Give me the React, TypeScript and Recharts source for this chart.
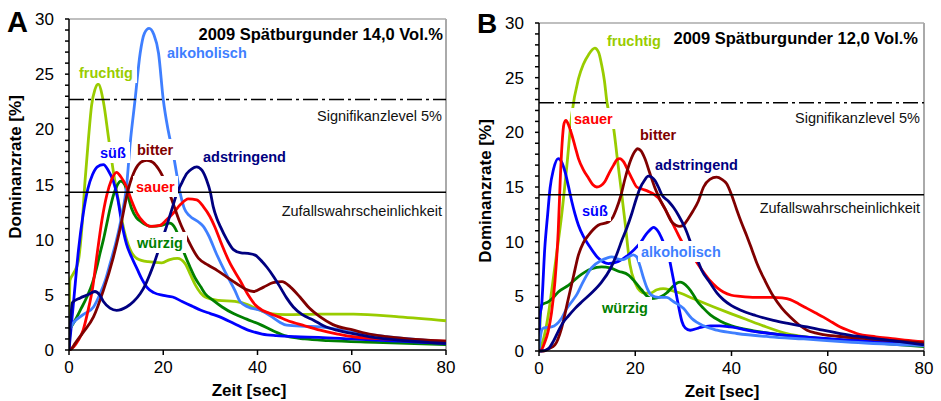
import React from 'react'
import { LineChart, Line, XAxis, YAxis, ReferenceLine } from 'recharts'

type P = [number, number]

// ---- Panel A: 2009 Spätburgunder 14,0 Vol.%  (Zeit [sec], Dominanzrate [%])
const suessA: P[] = [[0,0],[1,4.5],[2,9],[3,12.3],[4,14.6],[5,15.9],[6,16.6],[7.3,16.8],[8.3,16.3],[9.4,15.3],[10.3,13.8],[11.2,11.5],[12.2,9.6],[13.3,8.4],[14.5,7.3],[15.5,6.4],[16.5,5.7],[18,5.2],[20,4.95],[22,4.8],[24,4.4],[26,4.0],[28,3.6],[30,3.3],[32,3.0],[35,2.4],[38,1.8],[41,1.45],[44,1.3],[48,1.2],[53,1.15],[60,1.0],[70,0.8],[80,0.6]]
const sauerA: P[] = [[0,0],[1,0.3],[2,0.9],[3,1.8],[4,3.5],[5,5.6],[6,8.8],[7,11.8],[8,14.0],[9,15.4],[10.1,16.1],[11,15.7],[12.2,14.8],[13.3,13.5],[14.4,12.4],[15.8,11.6],[17.2,11.2],[19.3,11.3],[20.7,11.8],[22.1,12.4],[23.7,13.2],[25.3,13.7],[27.1,13.6],[28.5,13.0],[29.9,12.1],[31,11.1],[32.1,9.9],[34,8.0],[36.3,6.3],[38,5.0],[39.5,4.1],[41,3.6],[42.7,3.3],[44.5,3.0],[46.2,2.7],[50,2.2],[53.3,1.8],[57,1.45],[60.4,1.2],[70,0.95],[80,0.8]]
const bitterA: P[] = [[0,0],[0.5,0.1],[1.3,0.6],[3,1.6],[5.2,3.0],[7.3,5.4],[9.4,8.4],[10.8,10.9],[12.6,14.6],[14,16.3],[15.2,17.0],[16.5,17.2],[17.8,17.0],[19,16.4],[19.7,15.9],[20.8,14.8],[22,13.4],[23.5,11.6],[25,10.2],[27.5,8.3],[29.5,7.7],[31.5,7.2],[33.5,6.6],[35.6,6.0],[37.5,5.5],[39.1,5.3],[41.3,5.7],[43.3,6.1],[45.2,6.2],[47,5.7],[49,4.8],[51,3.8],[53.3,3.0],[56,2.3],[60.4,1.8],[63,1.5],[67.4,1.2],[72,1.0],[80,0.8]]
const fruchtigA: P[] = [[0,0],[0.2,6.3],[0.9,6.9],[2,8.1],[2.7,10.9],[3.4,15.3],[4.1,19],[4.8,22.2],[5.5,23.6],[6.2,24.1],[7.3,22.5],[8.4,19.2],[9.4,16.2],[10.8,12.8],[11.7,10.8],[12.6,9.5],[14.4,8.3],[16.8,8.0],[19.7,7.9],[21.4,8.2],[23,8.3],[24.6,7.85],[25.8,6.8],[26.8,5.9],[28.9,4.8],[31.7,4.5],[35.2,4.4],[38,4.1],[40,3.7],[42.7,3.3],[46,3.2],[53.3,3.25],[60.4,3.25],[70,3.0],[80,2.65]]
const alkoholischA: P[] = [[0,1.8],[1,2.5],[3,3.2],[5.2,3.9],[6.6,5.1],[7.7,6.3],[8.7,7.8],[10.1,10],[11.2,12.2],[12.2,14.8],[13,18.8],[14,22.6],[15.1,26.9],[16,28.7],[17,29.15],[18,28.6],[19,26.9],[20,22.7],[21,20.0],[22.1,17.8],[23.6,14.2],[24.5,12.8],[25.5,12.2],[27.5,11.6],[28.5,11.2],[29.6,10.4],[31.3,8.7],[33.1,7.1],[35.2,5.4],[36.3,4.4],[38,3.9],[40.6,3.6],[42.7,3.1],[44.8,2.5],[46.2,2.25],[50,2.15],[53.3,2.1],[60.4,1.6],[70,1.1],[80,0.75]]
const adstringendA: P[] = [[0,0],[0.7,4.3],[2.3,4.7],[4,5.0],[5.5,5.3],[6.5,5.0],[7.3,4.4],[8.7,3.8],[10.1,3.6],[12.2,3.9],[13.7,4.4],[15.1,5.1],[16.2,5.9],[17.2,6.9],[18.1,7.9],[19,9.05],[20.7,11.2],[22,13],[22.9,14.2],[24,15.2],[25,16.0],[26,16.4],[27.1,16.6],[28.2,16.3],[29.2,15.4],[30,14.3],[30.6,13.0],[31.4,11.9],[32.1,11.2],[33.5,10.0],[34.9,9.1],[36.5,8.8],[38,8.75],[39.5,8.6],[41,8.0],[42,7.5],[43.5,6.6],[44.8,5.7],[46.2,4.7],[47.6,3.9],[49.5,3.2],[51.9,2.7],[54,2.2],[56.8,1.8],[60,1.5],[63.9,1.2],[70,0.9],[80,0.6]]
const wuerzigA: P[] = [[0,1.8],[1.3,2.7],[2.5,3.7],[3.8,4.8],[5,6.1],[5.9,7.5],[6.6,8.8],[7.3,10],[8,11.4],[8.7,12.8],[9.4,14.0],[10.2,14.9],[11,15.3],[11.8,15.0],[12.5,14.0],[13.3,12.8],[14.3,12.0],[15.4,11.6],[16.5,11.3],[17.6,11.2],[19.7,11.3],[21.4,11.5],[22.3,11.2],[22.9,10.7],[23.7,9.7],[24.6,8.6],[25.7,7.5],[26.8,6.5],[28,5.7],[28.9,5.1],[30.6,4.5],[32.5,3.9],[34.9,3.3],[37.7,2.8],[40.6,2.3],[43.5,1.7],[46.2,1.25],[50,1.0],[55,0.85],[65,0.7],[80,0.5]]

// ---- Panel B: 2009 Spätburgunder 12,0 Vol.%
const suessB: P[] = [[0,0],[0.15,3.1],[0.55,4.2],[1.2,9.4],[1.8,12.5],[2.3,14.9],[3,16.6],[4,17.6],[4.7,17.3],[5.4,16.4],[6.1,15.1],[6.8,13.7],[7.5,12.5],[8.2,11.5],[9.2,10.5],[10.3,9.7],[12.3,8.5],[14.4,8.0],[16.5,8.2],[18.6,8.8],[20.7,9.7],[22.7,10.9],[23.8,11.3],[24.8,10.9],[25.8,10.0],[26.9,8.8],[27.6,7.3],[28.3,5.7],[29,4.1],[29.7,2.7],[30.4,2.1],[31.4,1.9],[33.1,2.1],[35.6,2.3],[37.5,2.3],[39.7,2.2],[44.6,1.8],[50,1.5],[55,1.3],[65,1.0],[80,0.7]]
const sauerB: P[] = [[0,0],[0.5,0.1],[1.2,0.8],[1.9,1.8],[2.6,3.5],[3.3,6.3],[4,11],[4.4,15.5],[4.8,19],[5.2,20.8],[5.6,21.1],[6.2,20.6],[6.8,19.8],[7.5,18.7],[8.2,17.6],[9.2,16.6],[10.3,15.8],[11.2,15.2],[12,15.0],[12.8,15.1],[13.7,15.5],[14.6,16.3],[15.5,17.0],[16.2,17.5],[16.8,17.6],[17.6,17.3],[18.6,16.4],[19.5,15.6],[20.3,15.0],[21.5,14.8],[22.7,14.6],[24,14.3],[24.8,14.0],[25.8,13.3],[26.9,12.4],[28.3,11.2],[29.7,10.0],[30.7,9.4],[31.7,8.9],[32.8,8.1],[34.2,7.2],[35.6,6.4],[37,5.8],[38.3,5.4],[40,5.1],[41.8,5.0],[45,4.9],[48.7,4.9],[50.5,4.85],[52.2,4.7],[54,4.3],[55.7,3.9],[57.4,3.5],[59.1,3.1],[61,2.6],[62.6,2.2],[64.5,1.85],[66,1.6],[70,1.3],[73,1.15],[76,1.0],[80,0.85]]
const bitterB: P[] = [[0,0],[1,0],[2,0.2],[3.3,0.55],[4.7,2.1],[6.1,4.8],[7.2,6.9],[8.2,8.8],[9.2,9.9],[10.3,10.6],[12.3,11.5],[14.4,11.8],[15.3,12.2],[16.1,13.0],[17,14.2],[17.9,15.8],[19,17.4],[20,18.3],[20.5,18.5],[21.2,18.3],[22,17.6],[23,16.3],[24.1,14.9],[25.2,13.8],[26.2,13.0],[27.6,11.8],[29.3,11.4],[30.2,11.6],[31,12.1],[32,12.8],[33.1,13.7],[34.2,15.0],[35.5,15.7],[36.9,15.9],[38,15.7],[39,15.3],[40,14.3],[41.1,12.9],[42.1,11.7],[43.2,10.5],[44.3,9.2],[45.3,8.0],[47,6.4],[48.7,5.0],[50.5,3.9],[52.2,3.1],[54,2.4],[55.7,1.9],[57.4,1.65],[59.1,1.5],[62,1.35],[66,1.2],[72,1.0],[80,0.75]]
const fruchtigB: P[] = [[0,0],[1,1.2],[2,3.5],[2.6,5.4],[3.6,8.7],[4.7,12.4],[5.8,17],[6.8,21.6],[8.2,24.9],[9.2,26.2],[10.3,27.1],[11.6,27.7],[12.4,27.3],[13,26.2],[13.6,24.7],[14.1,22.8],[15.5,20.4],[16.3,17.5],[17.2,14.3],[17.9,11.7],[18.9,7.9],[20,6.2],[21,5.5],[22,5.3],[23.1,5.3],[24.5,5.6],[25.8,5.7],[27.5,5.55],[29.3,5.3],[32,4.8],[36.2,4.05],[40,3.4],[43,2.9],[46.6,2.3],[51.5,1.6],[56,1.25],[62,1.0],[70,0.8],[80,0.6]]
const alkoholischB: P[] = [[0,0],[0.5,1.8],[0.9,2.1],[2.6,2.2],[4.7,3.0],[5.8,3.9],[6.8,4.5],[7.9,5.2],[8.9,6.1],[10.9,7.6],[13,8.3],[14.1,8.5],[15.1,8.6],[16.5,8.4],[17.5,8.35],[18.6,8.6],[19.6,8.8],[20.3,8.6],[20.9,7.9],[21.7,6.7],[22.5,5.7],[23.4,5.1],[24.8,4.9],[26.5,4.9],[28,4.5],[30,3.9],[31.7,3.0],[34.2,2.3],[37,1.9],[41.1,1.6],[48,1.3],[55,1.1],[65,0.8],[80,0.5]]
const adstringendB: P[] = [[0,0],[0.5,0],[1.9,0.2],[3,0.9],[4,1.8],[5,2.6],[6.1,3.2],[7.5,3.9],[8.9,4.5],[10.9,5.3],[13,6.3],[14.8,7.5],[16.2,8.9],[17.2,10.1],[18.2,11.2],[19.3,12.6],[20.2,13.9],[21,14.9],[21.9,15.6],[22.7,16.0],[23.4,15.9],[24.1,15.6],[24.8,15.0],[25.5,14.3],[26.9,13.7],[28,13.1],[29,12.4],[30.4,11.2],[31.7,9.7],[32.7,8.6],[33.8,7.4],[35.6,6.2],[37,5.3],[38.3,4.7],[40,4.15],[41.8,3.75],[45,3.25],[48.7,2.8],[52,2.5],[55.7,2.2],[59,1.9],[62.6,1.6],[66,1.35],[69.5,1.15],[75,0.85],[80,0.55]]
const wuerzigB: P[] = [[0,0],[0.3,3.5],[0.55,4.2],[1.9,4.5],[3,4.9],[4,5.4],[6.1,6.0],[8.2,6.8],[10.3,7.4],[12,7.65],[13,7.7],[14.8,7.6],[16.5,7.3],[18.6,6.95],[20,6.3],[21.3,5.6],[22.5,5.0],[23.4,4.8],[24.5,4.85],[25.5,5.0],[26.5,5.3],[27.6,5.8],[28.6,6.2],[29.3,6.3],[30,6.2],[31,5.8],[32,5.2],[32.8,4.6],[34.2,3.9],[35.6,3.3],[37.6,2.75],[40,2.3],[44.6,1.85],[50,1.5],[55,1.3],[65,0.9],[80,0.4]]

const SIGNIF = 22.7
const ZUFALL = 14.3
const xTicks = [0, 20, 40, 60, 80]
const yTicks = [0, 1, 2, 3, 4, 5, 6, 7, 8, 9, 10, 11, 12, 13, 14, 15, 16, 17, 18, 19, 20, 21, 22, 23, 24, 25, 26, 27, 28, 29, 30]

const FONT = 'Arial, "Liberation Sans", Helvetica, sans-serif'

const colors: { [k: string]: string } = {
  'süß': '#0000ff',
  sauer: '#ff0000',
  bitter: '#800000',
  fruchtig: '#99cc00',
  alkoholisch: '#3f7fff',
  adstringend: '#000080',
  'würzig': '#008000'
}

const toPts = (arr: P[]) => arr.map(([t, v]) => ({ t, v }))

interface PanelProps {
  series: { name: string; data: P[] }[]
  width: number
  margin: { top: number; right: number; bottom: number; left: number }
  sigOffset: number
  zufOffset: number
}

function refLabel(text: string, dy: number) {
  return (props: any) => {
    const vb = props.viewBox || {}
    return (
      <text x={vb.x + vb.width - 4} y={vb.y + dy} textAnchor="end" fontSize={14.5} fill="#111" fontFamily={FONT}>
        {text}
      </text>
    )
  }
}

function Panel({ series, width, margin, sigOffset, zufOffset }: PanelProps) {
  return (
    <LineChart width={width} height={401} margin={margin}>
      <XAxis
        type="number"
        dataKey="t"
        domain={[0, 80]}
        ticks={xTicks}
        allowDataOverflow
        height={30}
        tickSize={5}
        tickMargin={6}
        stroke="#000"
        strokeWidth={1.5}
        tick={{ fontSize: 17, fill: '#000', fontFamily: FONT }}
      />
      <YAxis
        type="number"
        domain={[0, 30]}
        ticks={yTicks}
        interval={0}
        width={69}
        tickSize={4}
        tickMargin={11}
        stroke="#000"
        strokeWidth={1.5}
        tickFormatter={(v: number) => (v % 5 === 0 ? String(v) : '')}
        tick={{ fontSize: 17, fill: '#000', fontFamily: FONT }}
      />
      <ReferenceLine y={30} stroke="#aaa" strokeWidth={1.5} />
      <ReferenceLine x={80} stroke="#aaa" strokeWidth={2} />
      {series.map(s => (
        <Line
          key={s.name}
          data={toPts(s.data)}
          dataKey="v"
          name={s.name}
          type="monotone"
          stroke={colors[s.name]}
          strokeWidth={2.8}
          dot={false}
          activeDot={false}
          isAnimationActive={false}
        />
      ))}
      <ReferenceLine y={SIGNIF} stroke="#000" strokeWidth={1.5} strokeDasharray="15 4 3 4" label={refLabel('Signifikanzlevel 5%', sigOffset)} />
      <ReferenceLine y={ZUFALL} stroke="#000" strokeWidth={1.5} label={refLabel('Zufallswahrscheinlichkeit', zufOffset)} />
    </LineChart>
  )
}

const seriesA = [
  { name: 'fruchtig', data: fruchtigA },
  { name: 'würzig', data: wuerzigA },
  { name: 'süß', data: suessA },
  { name: 'alkoholisch', data: alkoholischA },
  { name: 'sauer', data: sauerA },
  { name: 'bitter', data: bitterA },
  { name: 'adstringend', data: adstringendA }
]
const seriesB = [
  { name: 'fruchtig', data: fruchtigB },
  { name: 'würzig', data: wuerzigB },
  { name: 'süß', data: suessB },
  { name: 'alkoholisch', data: alkoholischB },
  { name: 'sauer', data: sauerB },
  { name: 'bitter', data: bitterB },
  { name: 'adstringend', data: adstringendB }
]

// series labels: [text, x, baseline, box width]
const labelsA: [string, number, number, number][] = [
  ['fruchtig', 79, 78, 55],
  ['alkoholisch', 167, 58, 82],
  ['süß', 100, 158, 27],
  ['bitter', 137, 155, 37],
  ['adstringend', 203, 162, 85],
  ['sauer', 136, 192, 39],
  ['würzig', 137, 248, 47]
]
const labelsB: [string, number, number, number][] = [
  ['fruchtig', 607, 46, 56],
  ['sauer', 574, 124, 40],
  ['bitter', 640, 140, 36],
  ['adstringend', 655, 170, 84],
  ['süß', 582, 216, 26],
  ['alkoholisch', 641, 257, 81],
  ['würzig', 602, 313, 47]
]

export default function App() {
  return (
    <div style={{ position: 'absolute', left: 0, top: 0, width: 941, height: 401, background: '#fff', overflow: 'hidden' }}>
      <div style={{ position: 'absolute', left: 0, top: 0 }}>
        <Panel series={seriesA} width={470} margin={{ top: 19, right: 24, bottom: 21, left: 0 }} sigOffset={21} zufOffset={24} />
      </div>
      <div style={{ position: 'absolute', left: 470, top: 0 }}>
        <Panel series={seriesB} width={471} margin={{ top: 23, right: 17, bottom: 20, left: 0 }} sigOffset={20} zufOffset={18} />
      </div>
      <svg width={941} height={401} style={{ position: 'absolute', left: 0, top: 0, pointerEvents: 'none' }} fontFamily={FONT}>
        {[...labelsA, ...labelsB].map(([txt, x, y, w], i) => (
          <g key={i}>
            <rect x={x - 3} y={y - 16} width={w + 6} height={21} fill="#fff" />
            <text x={x} y={y} fontSize={14.5} fontWeight="bold" fill={colors[txt]}>{txt}</text>
          </g>
        ))}
        <text x={7} y={32} fontSize={29} fontWeight="bold">A</text>
        <text x={477} y={33} fontSize={28} fontWeight="bold">B</text>
        <text x={443} y={40} fontSize={16.5} fontWeight="bold" textAnchor="end">2009 Spätburgunder 14,0 Vol.%</text>
        <text x={918} y={44} fontSize={16.5} fontWeight="bold" textAnchor="end">2009 Spätburgunder 12,0 Vol.%</text>
        <text x={0} y={0} fontSize={17} fontWeight="bold" textAnchor="middle" transform="translate(21,167) rotate(-90)">Dominanzrate [%]</text>
        <text x={0} y={0} fontSize={17} fontWeight="bold" textAnchor="middle" transform="translate(491,191) rotate(-90)">Dominanzrate [%]</text>
        <text x={249} y={396} fontSize={17} fontWeight="bold" textAnchor="middle">Zeit [sec]</text>
        <text x={722} y={397} fontSize={17} fontWeight="bold" textAnchor="middle">Zeit [sec]</text>
      </svg>
    </div>
  )
}
